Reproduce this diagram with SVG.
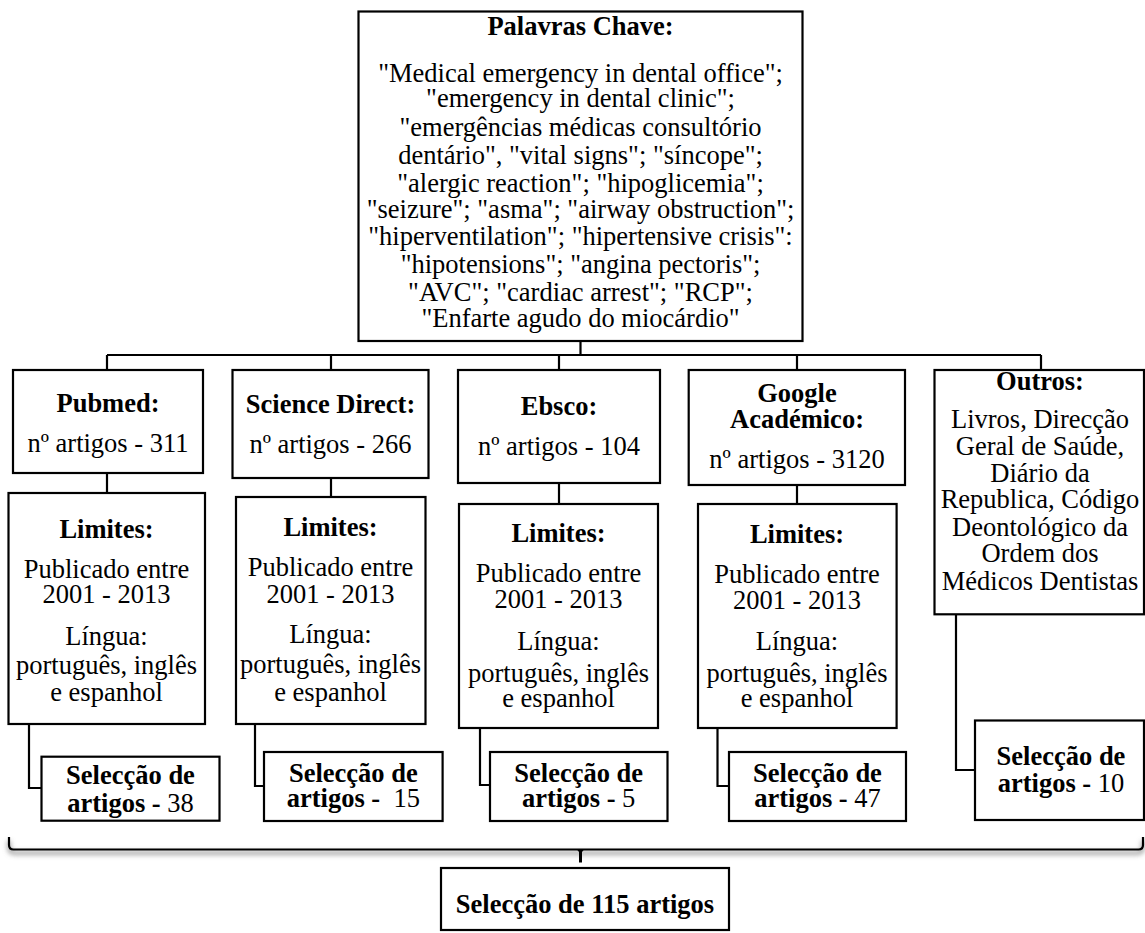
<svg xmlns="http://www.w3.org/2000/svg" width="1145" height="933" viewBox="0 0 1145 933">
<style>
.box{fill:#fff;stroke:#000;stroke-width:2.2}
.ln{fill:none;stroke:#000;stroke-width:2.2}
text{font-family:'Liberation Serif','Tinos','Times New Roman','Times','Nimbus Roman','Noto Serif','DejaVu Serif',serif;font-size:26.5px;fill:#000;text-anchor:middle}
.b{font-weight:bold}
.r{font-weight:normal}
</style>
<defs>
<filter id="sh" x="-5%" y="-200%" width="110%" height="500%">
<feGaussianBlur stdDeviation="2.5"/>
</filter>
</defs>
<rect width="1145" height="933" fill="#fff"/>
<g id="connectors">
<path class="ln" d="M580.5,341 V355 M107,355 H1041 M107,355 V370 M331,355 V370 M559,355 V370 M797,355 V370 M1041,355 V370"/>
<path class="ln" d="M107,473 V493 M331,478 V497 M559,483 V504 M797,485 V504"/>
<path class="ln" d="M29,724 V788 H41.5 M255,724 V786 H264 M480,728 V785 H490 M717.5,728 V786 H729 M956,614 V770 H975"/>
<g id="brace">
<path d="M9,841 V847 Q9,853 15,853 H1137 Q1143,853 1143,847 V841" fill="none" stroke="#888" stroke-width="3" filter="url(#sh)"/>
<path class="ln" d="M9,837 V845 Q9,849.5 13.5,849.5 H1138.5 Q1143,849.5 1143,845 V837" stroke-width="2.6"/>
<path d="M576.5,849 L584.5,849 L582,852 L582,862.5 L579,862.5 L579,852 Z" fill="#000"/>
</g>
</g>
<g id="keywords">
<rect class="box" x="358.5" y="11.5" width="444" height="329.5"/>
<text class="b" x="580.5" y="35">Palavras Chave:</text>
<text x="580.5" y="81.7">"Medical emergency in dental office";</text>
<text x="580.5" y="106.7">"emergency in dental clinic";</text>
<text x="580.5" y="136">"emergências médicas consultório</text>
<text x="580.5" y="164">dentário", "vital signs"; "síncope";</text>
<text x="580.5" y="191.7">"alergic reaction"; "hipoglicemia";</text>
<text x="580.5" y="218.3">"seizure"; "asma"; "airway obstruction";</text>
<text x="580.5" y="245">"hiperventilation"; "hipertensive crisis":</text>
<text x="580.5" y="273">"hipotensions"; "angina pectoris";</text>
<text x="580.5" y="301">"AVC"; "cardiac arrest"; "RCP";</text>
<text x="580.5" y="326.7">"Enfarte agudo do miocárdio"</text>
</g>
<g id="pubmed">
<rect class="box" x="13" y="370" width="190" height="103"/>
<text class="b" x="108" y="411.7">Pubmed:</text>
<text x="108" y="451.7">nº artigos - 311</text>
</g>
<g id="sciencedirect">
<rect class="box" x="232.5" y="370" width="196" height="108"/>
<text class="b" x="330.5" y="413.3">Science Direct:</text>
<text x="330.5" y="453.3">nº artigos - 266</text>
</g>
<g id="ebsco">
<rect class="box" x="458" y="370" width="202" height="113"/>
<text class="b" x="559" y="415">Ebsco:</text>
<text x="559" y="455">nº artigos - 104</text>
</g>
<g id="google">
<rect class="box" x="688.7" y="370" width="216.3" height="115"/>
<text class="b" x="797" y="401.7">Google</text>
<text class="b" x="797" y="428.3">Académico:</text>
<text x="797" y="468.3">nº artigos - 3120</text>
</g>
<g id="outros">
<rect class="box" x="934.5" y="370" width="209.5" height="244.3"/>
<text class="b" x="1040" y="390">Outros:</text>
<text x="1040" y="428.3">Livros, Direcção</text>
<text x="1040" y="455">Geral de Saúde,</text>
<text x="1040" y="481.7">Diário da</text>
<text x="1040" y="508.3">Republica, Código</text>
<text x="1040" y="536">Deontológico da</text>
<text x="1040" y="561.7">Ordem dos</text>
<text x="1040" y="590">Médicos Dentistas</text>
</g>
<g id="limites1">
<rect class="box" x="8.5" y="493" width="196.5" height="231"/>
<text class="b" x="106.5" y="538.3">Limites:</text>
<text x="106.5" y="578.3">Publicado entre</text>
<text x="106.5" y="603.3">2001 - 2013</text>
<text x="106.5" y="645">Língua:</text>
<text x="106.5" y="674">português, inglês</text>
<text x="106.5" y="701">e espanhol</text>
</g>
<g id="limites2">
<rect class="box" x="236" y="497" width="189.5" height="227"/>
<text class="b" x="330.5" y="536">Limites:</text>
<text x="330.5" y="576">Publicado entre</text>
<text x="330.5" y="602.7">2001 - 2013</text>
<text x="330.5" y="643.3">Língua:</text>
<text x="330.5" y="673.3">português, inglês</text>
<text x="330.5" y="700.5">e espanhol</text>
</g>
<g id="limites3">
<rect class="box" x="459" y="504" width="199" height="224"/>
<text class="b" x="558.5" y="541.7">Limites:</text>
<text x="558.5" y="581.7">Publicado entre</text>
<text x="558.5" y="608.3">2001 - 2013</text>
<text x="558.5" y="650">Língua:</text>
<text x="558.5" y="681.7">português, inglês</text>
<text x="558.5" y="707.3">e espanhol</text>
</g>
<g id="limites4">
<rect class="box" x="698" y="504" width="198.6" height="224"/>
<text class="b" x="797" y="542.7">Limites:</text>
<text x="797" y="582.7">Publicado entre</text>
<text x="797" y="609.3">2001 - 2013</text>
<text x="797" y="650">Língua:</text>
<text x="797" y="681.7">português, inglês</text>
<text x="797" y="707.3">e espanhol</text>
</g>
<g id="sel1">
<rect class="box" x="41.5" y="756.7" width="178" height="64"/>
<text class="b" x="130.5" y="784">Selecção de</text>
<text class="b" x="130.5" y="812">artigos - <tspan class="r">38</tspan></text>
</g>
<g id="sel2">
<rect class="box" x="264" y="752" width="178.6" height="69"/>
<text class="b" x="353.3" y="782.3">Selecção de</text>
<text class="b" x="353.3" y="807.3">artigos - <tspan class="r">&#160;15</tspan></text>
</g>
<g id="sel3">
<rect class="box" x="490" y="752" width="177.5" height="69"/>
<text class="b" x="578.7" y="782">Selecção de</text>
<text class="b" x="578.7" y="807">artigos - <tspan class="r">5</tspan></text>
</g>
<g id="sel4">
<rect class="box" x="729" y="752" width="177" height="69"/>
<text class="b" x="817.5" y="782.3">Selecção de</text>
<text class="b" x="817.5" y="807.3">artigos - <tspan class="r">47</tspan></text>
</g>
<g id="sel5">
<rect class="box" x="975" y="720.5" width="169" height="99.5"/>
<text class="b" x="1061" y="765">Selecção de</text>
<text class="b" x="1061" y="791.7">artigos - <tspan class="r">10</tspan></text>
</g>
<g id="final">
<rect class="box" x="441" y="868" width="288" height="62"/>
<text class="b" x="585" y="913.3">Selecção de 115 artigos</text>
</g>
</svg>
